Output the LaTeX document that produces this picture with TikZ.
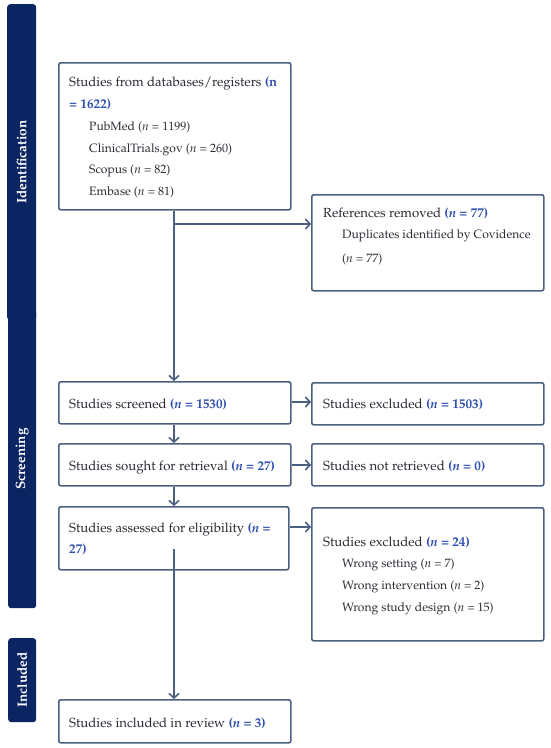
\documentclass[tikz,border=0pt]{standalone}
\usepackage[T1]{fontenc}
\usepackage{mathpazo}
\usetikzlibrary{arrows.meta}
\definecolor{navy}{HTML}{0B2462}
\definecolor{edge}{HTML}{4B5F80}
\definecolor{nblue}{HTML}{2F4FB0}
\definecolor{txt}{HTML}{2A2A33}
\tikzset{
  box/.style={draw=edge, line width=1.6pt, rounded corners=2pt, fill=white, inner sep=0pt, anchor=north west},
  bar/.style={fill=navy, draw=none, rounded corners=3pt},
  barlabel/.style={rotate=90, text=white, font=\fontsize{13.5}{15}\selectfont\bfseries},
  tx/.style={anchor=base west, inner sep=0pt, text=txt, font=\fontsize{13.2}{15}\selectfont},
  sub/.style={anchor=base west, inner sep=0pt, text=txt, font=\fontsize{12.1}{14}\selectfont},
  conn/.style={draw=edge, line width=1.8pt, -{Straight Barb[length=4.5pt,width=10pt,line width=1.6pt]}},
  plain/.style={draw=edge, line width=1.8pt}
}
\newcommand{\nb}[1]{\textcolor{nblue}{\textbf{#1}}}
\begin{document}
\begin{tikzpicture}[x=1pt,y=-1pt]
\useasboundingbox (0,0) rectangle (550,748);
% sidebars
\node[bar, minimum width=29, minimum height=316, anchor=north west, inner sep=0pt] (idbar) at (7,4) {};
\node[bar, minimum width=28, minimum height=298, anchor=north west, inner sep=0pt] (scbar) at (8,310) {};
\node[bar, minimum width=28, minimum height=84, anchor=north west, inner sep=0pt] (inbar) at (8,638) {};
\node[barlabel] (idlab) at (idbar.center) {Identification};
\node[barlabel] (sclab) at (scbar.center) {Screening};
\node[barlabel] (inlab) at (inbar.center) {Included};

% boxes
\node[box, minimum width=232, minimum height=147] (db) at (58,62) {};
\node[box, minimum width=232, minimum height=96] (refs) at (311,194) {};
\node[box, minimum width=232, minimum height=42] (scr) at (58,381) {};
\node[box, minimum width=232, minimum height=42] (exc1) at (311,382) {};
\node[box, minimum width=232, minimum height=42] (sought) at (58,443) {};
\node[box, minimum width=232, minimum height=42] (notret) at (311,443) {};
\node[box, minimum width=230, minimum height=63] (assess) at (58,506) {};
\node[box, minimum width=232, minimum height=133] (exc2) at (311,507) {};
\node[box, minimum width=232, minimum height=43] (incl) at (58,699) {};

% texts
\node[tx] (t1) at (69,86) {Studies from databases/registers \nb{(n}};
\node[tx] (t2) at (69,108) {\nb{= 1622)}};
\node[sub] (t3) at (89,130) {PubMed (\textit{n} = 1199)};
\node[sub] (t4) at (89,152) {ClinicalTrials.gov (\textit{n} = 260)};
\node[sub] (t5) at (89,173) {Scopus (\textit{n} = 82)};
\node[sub] (t6) at (89,195) {Embase (\textit{n} = 81)};

\node[tx] (r1) at (323,217) {References removed \nb{(\textit{n} = 77)}};
\node[sub] (r2) at (342,238) {Duplicates identified by Covidence};
\node[sub] (r3) at (342,262) {(\textit{n} = 77)};

\node[tx] (s1) at (69,408) {Studies screened \nb{(\textit{n} = 1530)}};
\node[tx] (e1) at (323,408) {Studies excluded \nb{(\textit{n} = 1503)}};
\node[tx] (s2) at (69,470) {Studies sought for retrieval \nb{(\textit{n} = 27)}};
\node[tx] (e2) at (323,470) {Studies not retrieved \nb{(\textit{n} = 0)}};
\node[tx] (s3) at (69,532) {Studies assessed for eligibility \nb{(\textit{n} =}};
\node[tx] (s3b) at (69,553) {\nb{27)}};
\node[tx] (x1) at (323,546) {Studies excluded \nb{(\textit{n} = 24)}};
\node[sub] (x2) at (342,567) {Wrong setting (\textit{n} = 7)};
\node[sub] (x3) at (342,589) {Wrong intervention (\textit{n} = 2)};
\node[sub] (x4) at (342,611) {Wrong study design (\textit{n} = 15)};
\node[tx] (i1) at (69,727) {Studies included in review \nb{(\textit{n} = 3)}};

% connectors
\coordinate (split) at (174,224);
\coordinate (astart) at (174,549);
\draw[conn] (db.south -| split) -- (scr.north -| split);
\draw[conn] (split) -- (split -| refs.west);
\draw[conn] (scr.east |- 0,402) -- (exc1.west |- 0,402);
\draw[conn] (scr.south -| split) -- (sought.north -| split);
\draw[conn] (sought.east |- 0,465) -- (notret.west |- 0,465);
\draw[conn] (sought.south -| split) -- (assess.north -| split);
\draw[conn] (assess.east |- 0,527) -- (exc2.west |- 0,527);
\draw[conn] (astart) -- (incl.north -| astart);
\end{tikzpicture}
\end{document}
